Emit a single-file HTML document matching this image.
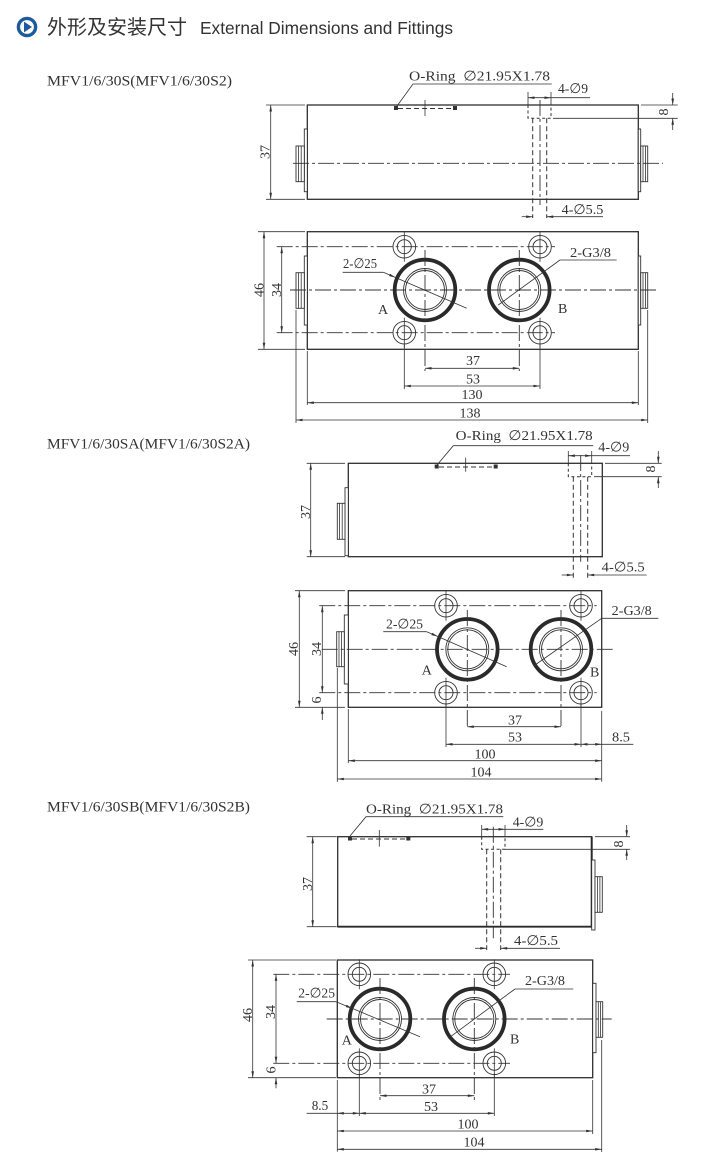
<!DOCTYPE html>
<html><head><meta charset="utf-8"><style>
html,body{margin:0;padding:0;background:#fff;}
svg{display:block;}
.l{stroke:#333;stroke-width:1;fill:none;}
.b{stroke:#2e2e2e;stroke-width:1.3;fill:none;}
.f{stroke:#333;stroke-width:0.9;fill:#fff;}
.c{stroke:#333;stroke-width:0.9;fill:none;stroke-dasharray:16 3 3 3;}
.h{stroke:#333;stroke-width:1;fill:none;stroke-dasharray:5 3;}
.cb{stroke:#333;stroke-width:1;fill:none;stroke-dasharray:3 2.5;}
.d{stroke:#333;stroke-width:0.8;fill:none;marker-start:url(#a);marker-end:url(#a);}
.e{stroke:#333;stroke-width:0.8;fill:none;marker-end:url(#a);}
.x{stroke:#333;stroke-width:0.8;fill:none;}
.p{stroke:#2a2a2a;stroke-width:3.8;fill:none;}
.pt{stroke:#333;stroke-width:0.9;fill:none;}
text{font-family:"Liberation Serif","DejaVu Serif",serif;fill:#333;font-size:14px;}
.lab{font-size:15px;}
.n{text-anchor:middle;}
</style></head><body>
<svg width="712" height="1166" viewBox="0 0 712 1166" xmlns="http://www.w3.org/2000/svg">
<defs>
<marker id="a" viewBox="0 0 10 4" refX="10" refY="2" markerWidth="7" markerHeight="2.6" orient="auto-start-reverse" markerUnits="userSpaceOnUse"><path d="M0,0 L10,2 L0,4z" fill="#333"/></marker>
<g id="mh"><circle r="11.3" class="pt"/><circle r="7" class="pt"/><line x1="0" y1="-15" x2="0" y2="15" class="x"/></g>
<g id="port"><circle r="30.3" class="p"/><circle r="21.5" class="pt"/><circle r="19.5" class="pt"/></g>
</defs>

<!-- Heading -->
<circle cx="27" cy="27" r="8.6" fill="#fff" stroke="#1d5b9b" stroke-width="3.4"/>
<path d="M24,21.6 L24,32.4 L32,27z" fill="#1d5b9b"/>
<text x="47" y="34" style="font-family:'Noto Sans CJK SC','WenQuanYi Zen Hei',sans-serif;font-size:20px;fill:#333" textLength="140" lengthAdjust="spacingAndGlyphs">外形及安装尺寸</text>
<text x="200" y="34" style="font-family:'Liberation Sans',sans-serif;font-size:17.5px;fill:#333" textLength="253" lengthAdjust="spacingAndGlyphs">External Dimensions and Fittings</text>

<!-- Labels -->
<text class="lab" x="47" y="85.5" textLength="185" lengthAdjust="spacingAndGlyphs">MFV1/6/30S(MFV1/6/30S2)</text>
<text class="lab" x="47" y="448.3" textLength="203" lengthAdjust="spacingAndGlyphs">MFV1/6/30SA(MFV1/6/30S2A)</text>
<text class="lab" x="47" y="811.7" textLength="203" lengthAdjust="spacingAndGlyphs">MFV1/6/30SB(MFV1/6/30S2B)</text>

<!-- ============ DRAWING 1 SIDE ============ -->
<rect x="307.3" y="105" width="331" height="94.3" class="b"/>
<rect x="304.3" y="129" width="3" height="62.7" class="f"/>
<rect x="296" y="146" width="8.3" height="35.7" class="f"/>
<line x1="298.5" y1="146" x2="298.5" y2="181.7" class="x"/><line x1="301.2" y1="146" x2="301.2" y2="181.7" class="x"/>
<rect x="638.3" y="129" width="2.4" height="62.7" class="f"/>
<rect x="640.7" y="146" width="7" height="35.7" class="f"/>
<line x1="643" y1="146" x2="643" y2="181.7" class="x"/><line x1="645.4" y1="146" x2="645.4" y2="181.7" class="x"/>
<line x1="293" y1="163.3" x2="663" y2="163.3" class="c"/>
<line x1="266" y1="105" x2="305" y2="105" class="x"/><line x1="266" y1="199.3" x2="305" y2="199.3" class="x"/>
<line x1="270.7" y1="105" x2="270.7" y2="199.3" class="d"/>
<text class="n" transform="translate(269.5,152) rotate(-90)">37</text>
<rect x="394" y="106" width="4" height="4" fill="#333"/><rect x="453" y="106" width="4" height="4" fill="#333"/>
<line x1="398" y1="108.5" x2="453" y2="108.5" class="h"/>
<line x1="425" y1="100" x2="425" y2="116" class="x"/>
<polyline points="397,106 413,84 551.7,84" class="x"/>
<text x="409" y="80.7" textLength="141" lengthAdjust="spacingAndGlyphs">O-Ring&#160;&#160;∅21.95X1.78</text>
<path d="M528,105 V118.3 H551 V105" class="cb"/>
<line x1="532.7" y1="118.3" x2="532.7" y2="218" class="h"/><line x1="546.7" y1="118.3" x2="546.7" y2="218" class="h"/>
<line x1="540" y1="100" x2="540" y2="205" class="c"/>
<line x1="528" y1="92" x2="528" y2="105" class="x"/><line x1="551" y1="92" x2="551" y2="105" class="x"/>
<line x1="528" y1="97.7" x2="551" y2="97.7" class="d"/><line x1="551" y1="97.7" x2="590" y2="97.7" class="x"/>
<text x="558" y="93" textLength="30" lengthAdjust="spacingAndGlyphs">4-∅9</text>
<line x1="521.7" y1="216.7" x2="532.7" y2="216.7" class="e"/><line x1="603" y1="216.7" x2="546.7" y2="216.7" class="e"/>
<text x="561.7" y="214" textLength="41.6" lengthAdjust="spacingAndGlyphs">4-∅5.5</text>
<line x1="641" y1="105" x2="677.7" y2="105" class="x"/><line x1="553" y1="118.3" x2="677.7" y2="118.3" class="x"/>
<line x1="672.7" y1="93" x2="672.7" y2="105" class="e"/><line x1="672.7" y1="130" x2="672.7" y2="118.3" class="e"/>
<text class="n" transform="translate(668,112) rotate(-90)">8</text>

<!-- ============ DRAWING 1 TOP ============ -->
<rect x="307.3" y="231.7" width="331" height="117.6" class="b"/>
<rect x="304.3" y="256" width="3" height="69" class="f"/>
<rect x="296" y="272.7" width="8.3" height="35.6" class="f"/>
<line x1="298.5" y1="272.7" x2="298.5" y2="308.3" class="x"/><line x1="301.2" y1="272.7" x2="301.2" y2="308.3" class="x"/>
<rect x="638.3" y="256" width="2.4" height="69" class="f"/>
<rect x="640.7" y="272.7" width="7" height="35.6" class="f"/>
<line x1="643" y1="272.7" x2="643" y2="308.3" class="x"/><line x1="645.4" y1="272.7" x2="645.4" y2="308.3" class="x"/>
<line x1="290" y1="290" x2="656.7" y2="290" class="c"/>
<line x1="276.7" y1="246.7" x2="555" y2="246.7" class="c"/>
<line x1="276.7" y1="332.7" x2="555" y2="332.7" class="c"/>
<use href="#mh" x="404.3" y="246.7"/><use href="#mh" x="540" y="246.7"/>
<use href="#mh" x="404.3" y="332.7"/><use href="#mh" x="540" y="332.7"/>
<use href="#port" x="425" y="290"/><use href="#port" x="519.3" y="290"/>
<line x1="425" y1="250" x2="425" y2="371" class="c"/><line x1="519.3" y1="250" x2="519.3" y2="371" class="c"/>
<line x1="258" y1="231.7" x2="305" y2="231.7" class="x"/><line x1="258" y1="349.3" x2="305" y2="349.3" class="x"/>
<line x1="264" y1="231.7" x2="264" y2="349.3" class="d"/>
<text class="n" transform="translate(263.5,290) rotate(-90)">46</text>
<line x1="281.7" y1="246.7" x2="281.7" y2="332.7" class="d"/>
<text class="n" transform="translate(281,290) rotate(-90)">34</text>
<line x1="425" y1="368.3" x2="519.3" y2="368.3" class="d"/>
<text class="n" x="473" y="365">37</text>
<line x1="404.3" y1="345" x2="404.3" y2="389" class="x"/><line x1="540" y1="345" x2="540" y2="389" class="x"/>
<line x1="404.3" y1="386" x2="540" y2="386" class="d"/>
<text class="n" x="473" y="383.3">53</text>
<line x1="307.3" y1="351" x2="307.3" y2="405" class="x"/><line x1="638.3" y1="351" x2="638.3" y2="405" class="x"/>
<line x1="307.3" y1="402.7" x2="638.3" y2="402.7" class="d"/>
<text class="n" x="472" y="399">130</text>
<line x1="296" y1="310" x2="296" y2="423" class="x"/><line x1="647.7" y1="310" x2="647.7" y2="423" class="x"/>
<line x1="296" y1="420" x2="647.7" y2="420" class="d"/>
<text class="n" x="470" y="417.7">138</text>
<text x="343" y="268" textLength="34" lengthAdjust="spacingAndGlyphs">2-∅25</text>
<line x1="342.7" y1="272.3" x2="383.3" y2="272.3" class="x"/>
<line x1="383.3" y1="272.3" x2="395.5" y2="277.5" class="e"/>
<line x1="395.5" y1="277.5" x2="466.7" y2="308.3" class="x"/>
<text x="570" y="257" textLength="41" lengthAdjust="spacingAndGlyphs">2-G3/8</text>
<line x1="560" y1="260" x2="616.7" y2="260" class="x"/>
<line x1="560" y1="260" x2="498.3" y2="305" class="x"/>
<text x="378" y="314">A</text><text x="558" y="313">B</text>

<!-- ============ DRAWING 2 SIDE ============ -->
<rect x="348.3" y="463.3" width="254" height="93.4" class="b"/>
<rect x="345" y="487.7" width="3.3" height="68" class="f"/>
<rect x="337.3" y="503.3" width="7.7" height="36" class="f"/>
<line x1="339.6" y1="503.3" x2="339.6" y2="539.3" class="x"/><line x1="342.2" y1="503.3" x2="342.2" y2="539.3" class="x"/>
<line x1="306.7" y1="463.3" x2="345" y2="463.3" class="x"/><line x1="306.7" y1="556.7" x2="345" y2="556.7" class="x"/>
<line x1="310.7" y1="463.3" x2="310.7" y2="556.7" class="d"/>
<text class="n" transform="translate(310,512) rotate(-90)">37</text>
<rect x="434.7" y="464.5" width="4" height="4" fill="#333"/><rect x="493.7" y="464.5" width="4" height="4" fill="#333"/>
<line x1="439" y1="467" x2="494" y2="467" class="h"/>
<line x1="465.7" y1="457.7" x2="465.7" y2="471.7" class="x"/>
<polyline points="437,465 453.3,445.7 593.3,445.7" class="x"/>
<text x="455.7" y="440" textLength="137" lengthAdjust="spacingAndGlyphs">O-Ring&#160;&#160;∅21.95X1.78</text>
<path d="M568.3,463.3 V476.7 H591.7 V463.3" class="cb"/>
<line x1="573.3" y1="476.7" x2="573.3" y2="578" class="h"/><line x1="587.7" y1="476.7" x2="587.7" y2="578" class="h"/>
<line x1="580.7" y1="455" x2="580.7" y2="561.7" class="c"/>
<line x1="568.3" y1="451" x2="568.3" y2="463.3" class="x"/><line x1="591.7" y1="451" x2="591.7" y2="463.3" class="x"/>
<line x1="568.3" y1="455.7" x2="591.7" y2="455.7" class="d"/><line x1="591.7" y1="455.7" x2="630" y2="455.7" class="x"/>
<text x="598.3" y="451.7" textLength="31" lengthAdjust="spacingAndGlyphs">4-∅9</text>
<line x1="561.7" y1="575" x2="573.3" y2="575" class="e"/><line x1="646.7" y1="575" x2="587.7" y2="575" class="e"/>
<text x="601.7" y="571.7" textLength="43" lengthAdjust="spacingAndGlyphs">4-∅5.5</text>
<line x1="605" y1="463.3" x2="661.7" y2="463.3" class="x"/><line x1="594" y1="476.7" x2="661.7" y2="476.7" class="x"/>
<line x1="658.3" y1="451" x2="658.3" y2="463.3" class="e"/><line x1="658.3" y1="488" x2="658.3" y2="476.7" class="e"/>
<text class="n" transform="translate(655,469) rotate(-90)">8</text>

<!-- ============ DRAWING 2 TOP ============ -->
<rect x="348.3" y="590.7" width="253.4" height="116.6" class="b"/>
<rect x="344.3" y="615" width="4" height="69" class="f"/>
<rect x="336.7" y="631.7" width="7.6" height="35" class="f"/>
<line x1="339" y1="631.7" x2="339" y2="666.7" class="x"/><line x1="341.6" y1="631.7" x2="341.6" y2="666.7" class="x"/>
<line x1="321.7" y1="649.3" x2="613.3" y2="649.3" class="c"/>
<line x1="319.3" y1="605.7" x2="596.7" y2="605.7" class="c"/>
<line x1="319.3" y1="692.7" x2="596.7" y2="692.7" class="c"/>
<use href="#mh" x="446" y="605.7"/><use href="#mh" x="581" y="605.7"/>
<use href="#mh" x="446" y="692.7"/><use href="#mh" x="581" y="692.7"/>
<use href="#port" x="467.3" y="649.3"/><use href="#port" x="561" y="649.3"/>
<line x1="467.3" y1="610" x2="467.3" y2="729" class="c"/><line x1="561" y1="610" x2="561" y2="729" class="c"/>
<line x1="295" y1="590.7" x2="345" y2="590.7" class="x"/><line x1="295" y1="707.3" x2="345" y2="707.3" class="x"/>
<line x1="299.3" y1="590.7" x2="299.3" y2="707.3" class="d"/>
<text class="n" transform="translate(298,649) rotate(-90)">46</text>
<line x1="322.3" y1="605.7" x2="322.3" y2="692.7" class="d"/>
<text class="n" transform="translate(321,649) rotate(-90)">34</text>
<line x1="322.3" y1="720" x2="322.3" y2="707.3" class="e"/>
<text class="n" transform="translate(321,700) rotate(-90)">6</text>
<line x1="467.3" y1="726.7" x2="561" y2="726.7" class="d"/>
<text class="n" x="515" y="724.3">37</text>
<line x1="446" y1="703" x2="446" y2="747" class="x"/><line x1="581" y1="703" x2="581" y2="747" class="x"/>
<line x1="446" y1="744.3" x2="581" y2="744.3" class="d"/>
<text class="n" x="515" y="741.7">53</text>
<line x1="581" y1="744.3" x2="601.7" y2="744.3" class="d"/><line x1="601.7" y1="744.3" x2="633.3" y2="744.3" class="x"/>
<text x="612" y="741.7" textLength="18" lengthAdjust="spacingAndGlyphs">8.5</text>
<line x1="601.7" y1="711" x2="601.7" y2="781.7" class="x"/>
<line x1="348.3" y1="709" x2="348.3" y2="763" class="x"/>
<line x1="348.3" y1="760.7" x2="601.7" y2="760.7" class="d"/>
<text class="n" x="485" y="758.3">100</text>
<line x1="337.3" y1="668" x2="337.3" y2="782" class="x"/>
<line x1="337.3" y1="779" x2="601.7" y2="779" class="d"/>
<text class="n" x="481" y="776.7">104</text>
<text x="386" y="628.3" textLength="37" lengthAdjust="spacingAndGlyphs">2-∅25</text>
<line x1="383.3" y1="631.7" x2="426.7" y2="631.7" class="x"/>
<line x1="426.7" y1="631.7" x2="437.8" y2="636.5" class="e"/>
<line x1="437.8" y1="636.5" x2="506.7" y2="666.7" class="x"/>
<text x="611.7" y="615" textLength="40" lengthAdjust="spacingAndGlyphs">2-G3/8</text>
<line x1="601.7" y1="618.3" x2="658.3" y2="618.3" class="x"/>
<line x1="601.7" y1="618.3" x2="535" y2="665" class="x"/>
<text x="421.7" y="674.3">A</text><text x="590" y="676.7">B</text>

<!-- ============ DRAWING 3 SIDE ============ -->
<rect x="337.7" y="836.7" width="254" height="90" class="b"/>
<line x1="591.7" y1="836.7" x2="591.7" y2="926.7" stroke="#2a2a2a" stroke-width="2"/>
<line x1="337.7" y1="926.7" x2="591.7" y2="926.7" stroke="#2a2a2a" stroke-width="1.8"/>
<rect x="591.7" y="860" width="3.3" height="70" class="f"/>
<rect x="595" y="876.7" width="7.3" height="35.6" class="f"/>
<line x1="597.4" y1="876.7" x2="597.4" y2="912.3" class="x"/><line x1="599.9" y1="876.7" x2="599.9" y2="912.3" class="x"/>
<line x1="306.7" y1="836.7" x2="336.7" y2="836.7" class="x"/><line x1="306.7" y1="926.7" x2="336.7" y2="926.7" class="x"/>
<line x1="312.7" y1="836.7" x2="312.7" y2="926.7" class="d"/>
<text class="n" transform="translate(312,884) rotate(-90)">37</text>
<rect x="348" y="836.5" width="4" height="4" fill="#333"/><rect x="406.3" y="836.5" width="4" height="4" fill="#333"/>
<line x1="352" y1="839" x2="406" y2="839" class="h"/>
<line x1="379.3" y1="830" x2="379.3" y2="846.7" class="x"/>
<polyline points="350,836 366,816.7 503.3,816.7" class="x"/>
<text x="366" y="813.3" textLength="137" lengthAdjust="spacingAndGlyphs">O-Ring&#160;&#160;∅21.95X1.78</text>
<path d="M481.7,836.7 V849.3 H505 V836.7" class="cb"/>
<line x1="486.7" y1="849.3" x2="486.7" y2="950" class="h"/><line x1="500.7" y1="849.3" x2="500.7" y2="950" class="h"/>
<line x1="493.3" y1="826.7" x2="493.3" y2="938.3" class="c"/>
<line x1="481.7" y1="825" x2="481.7" y2="836.7" class="x"/><line x1="505" y1="825" x2="505" y2="836.7" class="x"/>
<line x1="481.7" y1="829.3" x2="505" y2="829.3" class="d"/><line x1="505" y1="829.3" x2="543.3" y2="829.3" class="x"/>
<text x="512.7" y="826.7" textLength="30.6" lengthAdjust="spacingAndGlyphs">4-∅9</text>
<line x1="475" y1="948.3" x2="486.7" y2="948.3" class="e"/><line x1="560" y1="948.3" x2="500.7" y2="948.3" class="e"/>
<text x="514" y="945" textLength="44" lengthAdjust="spacingAndGlyphs">4-∅5.5</text>
<line x1="595" y1="836.7" x2="630" y2="836.7" class="x"/><line x1="505" y1="849.3" x2="630" y2="849.3" class="x"/>
<line x1="626.7" y1="825" x2="626.7" y2="836.7" class="e"/><line x1="626.7" y1="860" x2="626.7" y2="849.3" class="e"/>
<text class="n" transform="translate(623,844) rotate(-90)">8</text>

<!-- ============ DRAWING 3 TOP ============ -->
<rect x="337.3" y="960" width="255.4" height="117.7" class="b"/>
<rect x="592.7" y="983.3" width="3.3" height="69.4" class="f"/>
<rect x="596" y="1001.7" width="6.7" height="35.6" class="f"/>
<line x1="598.3" y1="1001.7" x2="598.3" y2="1037.3" class="x"/><line x1="600.6" y1="1001.7" x2="600.6" y2="1037.3" class="x"/>
<line x1="326.7" y1="1019" x2="611.7" y2="1019" class="c"/>
<line x1="273.3" y1="974.3" x2="510" y2="974.3" class="c"/>
<line x1="273.3" y1="1063.3" x2="510" y2="1063.3" class="c"/>
<use href="#mh" x="359.3" y="974.3"/><use href="#mh" x="494.3" y="974.3"/>
<use href="#mh" x="359.3" y="1063.3"/><use href="#mh" x="494.3" y="1063.3"/>
<use href="#port" x="380" y="1019"/><use href="#port" x="474.3" y="1019"/>
<line x1="380" y1="978" x2="380" y2="1100" class="c"/><line x1="474.3" y1="978" x2="474.3" y2="1100" class="c"/>
<line x1="248" y1="960" x2="336" y2="960" class="x"/><line x1="248" y1="1077.7" x2="336" y2="1077.7" class="x"/>
<line x1="252.7" y1="960" x2="252.7" y2="1077.7" class="d"/>
<text class="n" transform="translate(252,1015) rotate(-90)">46</text>
<line x1="276" y1="974.3" x2="276" y2="1063.3" class="d"/>
<text class="n" transform="translate(275,1012) rotate(-90)">34</text>
<line x1="276" y1="1088.3" x2="276" y2="1077.7" class="e"/>
<text class="n" transform="translate(275.5,1070) rotate(-90)">6</text>
<line x1="380" y1="1095.7" x2="474.3" y2="1095.7" class="d"/>
<text class="n" x="429" y="1093.3">37</text>
<line x1="359.3" y1="1074" x2="359.3" y2="1116" class="x"/><line x1="494.3" y1="1074" x2="494.3" y2="1116" class="x"/>
<line x1="359.3" y1="1113.3" x2="494.3" y2="1113.3" class="d"/>
<text class="n" x="431" y="1111">53</text>
<line x1="337.3" y1="1113.3" x2="359.3" y2="1113.3" class="d"/><line x1="306.7" y1="1113.3" x2="337.3" y2="1113.3" class="x"/>
<text x="311.7" y="1110" textLength="16.5" lengthAdjust="spacingAndGlyphs">8.5</text>
<line x1="337.3" y1="1080" x2="337.3" y2="1151.7" class="x"/>
<line x1="592.7" y1="1080" x2="592.7" y2="1134" class="x"/>
<line x1="601.7" y1="1040" x2="601.7" y2="1152" class="x"/>
<line x1="337.3" y1="1131" x2="592.7" y2="1131" class="d"/>
<text class="n" x="468" y="1128.3">100</text>
<line x1="337.3" y1="1149.3" x2="601.7" y2="1149.3" class="d"/>
<text class="n" x="474" y="1146.7">104</text>
<text x="298.3" y="997.7" textLength="36.7" lengthAdjust="spacingAndGlyphs">2-∅25</text>
<line x1="296.7" y1="1001.7" x2="336" y2="1001.7" class="x"/>
<line x1="336" y1="1001.7" x2="352.2" y2="1008.4" class="e"/>
<line x1="352.2" y1="1008.4" x2="420" y2="1036.7" class="x"/>
<text x="525" y="985" textLength="40" lengthAdjust="spacingAndGlyphs">2-G3/8</text>
<line x1="515" y1="989" x2="573.3" y2="989" class="x"/>
<line x1="515" y1="989" x2="448.3" y2="1038.3" class="x"/>
<text x="341.7" y="1044.3">A</text><text x="510" y="1043.3">B</text>
</svg>
</body></html>
